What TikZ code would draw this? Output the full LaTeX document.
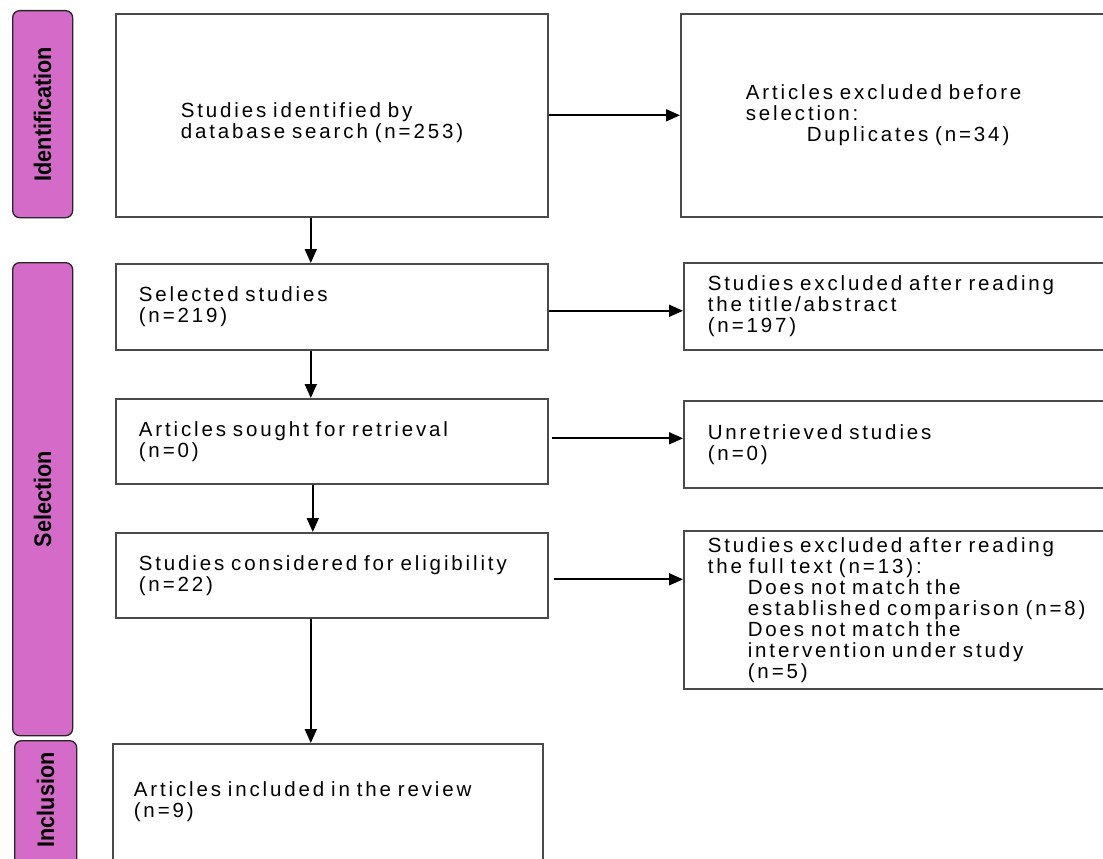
\documentclass[tikz,border=0pt]{standalone}
\usepackage{fontspec}
\usepackage{tikz}
\usetikzlibrary{arrows.meta}
\newfontfamily\boxfont[LetterSpace=14]{Liberation Sans}
\newfontfamily\phasefont[FakeStretch=0.9]{Liberation Sans}
\definecolor{phasepink}{HTML}{D56BC8}
\definecolor{boxgray}{HTML}{4A4A4A}

\begin{document}
\begin{tikzpicture}[
    x=1pt, y=-1pt,
    phase/.style={draw=black!85, line width=1.3pt, fill=phasepink,
                  rounded corners=7pt, anchor=north west, inner sep=0pt},
    phaselabel/.style={rotate=90, font=\phasefont\bfseries\fontsize{24pt}{24pt}\selectfont},
    stage/.style={draw=boxgray, line width=1.6pt, fill=white, anchor=north west,
                  align=left, inner ysep=0pt,
                  font=\boxfont\fontsize{20.5pt}{21pt}\selectfont},
    arrow/.style={-{Triangle[length=14pt,width=12pt]}, line width=1.8pt},
]
\clip (0,0) rectangle (1103,859);

% --- Phase bars on the left ---
\node[phase, minimum width=60pt, minimum height=207pt] (idbar) at (12,10) {};
\node[phaselabel] (idlabel) at (idbar.center) {Identification};
\node[phase, minimum width=60pt, minimum height=473pt] (selbar) at (12,262) {};
\node[phaselabel] (sellabel) at (selbar.center) {Selection};
\node[phase, minimum width=62pt, minimum height=140pt] (incbar) at (14,740) {};
\node[phaselabel] (inclabel) at ([yshift=-60pt]incbar.north) {Inclusion};

% --- Main column ---
\node[stage, minimum width=432pt, minimum height=203pt, inner xsep=65pt,
      text width=302pt] (found) at (115,13)
     {\rule{0pt}{30pt}Studies identified by\\database search (n=253)};
\node[stage, minimum width=432pt, minimum height=86pt, inner xsep=23pt,
      text width=386pt] (selected) at (115,263)
     {Selected studies\\(n=219)};
\node[stage, minimum width=432pt, minimum height=85pt, inner xsep=23pt,
      text width=386pt] (sought) at (115,398)
     {Articles sought for retrieval\\(n=0)};
\node[stage, minimum width=432pt, minimum height=85pt, inner xsep=23pt,
      text width=386pt] (eligible) at (115,532)
     {Studies considered for eligibility\\(n=22)};
\node[stage, minimum width=430pt, minimum height=116pt, inner xsep=21pt,
      text width=388pt] (included) at (112,743)
     {Articles included in the review\\(n=9)};

% --- Exclusion column (runs off the right edge) ---
\node[stage, minimum width=440pt, minimum height=203pt, inner xsep=65pt,
      text width=310pt] (dupes) at (680,13)
     {Articles excluded before\\selection:\\\hspace*{61pt}Duplicates (n=34)};
\node[stage, minimum width=440pt, minimum height=87pt, inner xsep=24pt,
      text width=392pt] (abstract) at (683,262)
     {Studies excluded after reading\\the title/abstract\\(n=197)};
\node[stage, minimum width=440pt, minimum height=87pt, inner xsep=24pt,
      text width=392pt] (unretrieved) at (683,400)
     {Unretrieved studies\\(n=0)};
\node[stage, minimum width=440pt, minimum height=158pt, inner xsep=24pt,
      text width=392pt] (fulltext) at (683,530)
     {Studies excluded after reading\\the full text (n=13):\\
      \hspace*{40pt}Does not match the\\
      \hspace*{40pt}established comparison (n=8)\\
      \hspace*{40pt}Does not match the\\
      \hspace*{40pt}intervention under study\\
      \hspace*{40pt}(n=5)};

% --- Downward flow ---
\draw[arrow] ([xshift=-21pt]found.south) -- ([xshift=-21pt]selected.north);
\draw[arrow] ([xshift=-21pt]selected.south) -- ([xshift=-21pt]sought.north);
\draw[arrow] ([xshift=-19pt]sought.south) -- ([xshift=-19pt]eligible.north);
\draw[arrow] ([xshift=-21pt]eligible.south) -- ([xshift=-17pt]included.north);

% --- Exclusions ---
\draw[arrow] (found.east) -- (found.east -| dupes.west);
\draw[arrow] ([yshift=-4pt]selected.east) -- ([yshift=-4pt]selected.east -| abstract.west);
\draw[arrow] ([xshift=3pt,yshift=3pt]sought.east) -- ([yshift=3pt]sought.east -| unretrieved.west);
\draw[arrow] ([xshift=5pt,yshift=-4pt]eligible.east) -- ([yshift=-4pt]eligible.east -| fulltext.west);

\end{tikzpicture}
\end{document}
